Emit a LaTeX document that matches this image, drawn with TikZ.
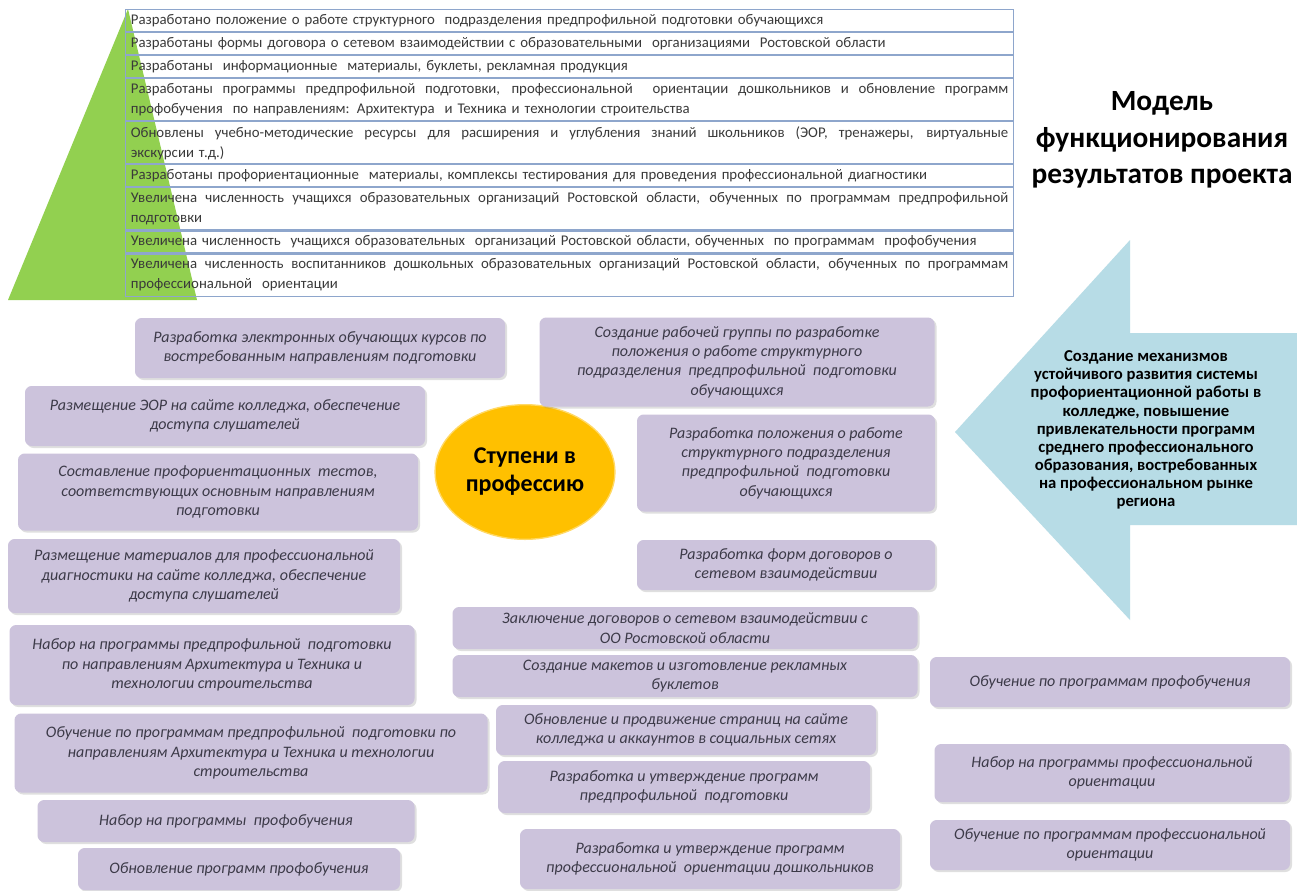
\documentclass[tikz,border=0pt]{standalone}
\usepackage{fontspec}
\setmainfont{Carlito}
\usetikzlibrary{positioning,shapes.geometric,shadows}
\definecolor{CellLine}{HTML}{8EA6CC}
\definecolor{CellText}{HTML}{3A3A3A}
\definecolor{PyramidGreen}{HTML}{92D050}
\definecolor{StepLilac}{HTML}{CCC3DC}
\definecolor{StepText}{HTML}{3C3A48}
\definecolor{HubYellow}{HTML}{FFC000}
\definecolor{GoalBlue}{HTML}{B7DCE6}

\newcommand{\fullrow}[1]{{\spaceskip=0.25em plus 1fil\relax\makebox[658pt][s]{#1}}}

\begin{document}
\begin{tikzpicture}[x=0.75pt,y=-0.75pt,
  cell/.style={rectangle,draw=CellLine,line width=0.8pt,anchor=north west,text width=658pt,align=left,inner xsep=4pt,inner ysep=0pt,minimum height=16.5pt,font=\fontsize{11.1}{15}\selectfont,text=CellText},
  cell2/.style={cell,minimum height=31.5pt},
  stepcard/.style={rectangle,rounded corners=5pt,fill=StepLilac,text=StepText,align=center,inner sep=2pt,font=\fontsize{12}{14.5}\selectfont\itshape,drop shadow={opacity=0.25,shadow xshift=1.5pt,shadow yshift=-1.5pt}},
  cardsize/.style 2 args={minimum width=#1*0.75pt,minimum height=#2*0.75pt},
  hub/.style={ellipse,fill=HubYellow,draw=HubYellow!60!white,line width=1pt,minimum width=112pt,minimum height=101pt,align=center,font=\fontsize{18}{21}\selectfont\bfseries},
  goal/.style={align=center,font=\fontsize{12.5}{13.6}\selectfont\bfseries},
  headline/.style={align=center,font=\fontsize{22}{27.5}\selectfont\bfseries}
]
\useasboundingbox (0,0) rectangle (1297,890);
\fill[white] (0,0) rectangle (1297,890);

% pyramid behind the results table
\fill[PyramidGreen] (8,300) -- (128,9) -- (197,300) -- cycle;

% results table
\node[cell] (r1) at (125,9) {Разработано положение о работе структурного\ \ подразделения предпрофильной подготовки обучающихся};
\node[cell,below=0pt of r1] (r2) {Разработаны формы договора о сетевом взаимодействии с образовательными\ \ организациями\ \ Ростовской области};
\node[cell,below=0pt of r2] (r3) {Разработаны\ \ информационные\ \ материалы, буклеты, рекламная продукция};
\node[cell2,below=0pt of r3] (r4) {\fullrow{Разработаны программы предпрофильной подготовки, профессиональной\ \ ориентации дошкольников и обновление программ}\\профобучения\ \ по направлениям: Архитектура\ \ и Техника и технологии строительства};
\node[cell2,below=0pt of r4] (r5) {\fullrow{Обновлены учебно-методические ресурсы для расширения и углубления знаний школьников (ЭОР, тренажеры, виртуальные}\\экскурсии т.д.)};
\node[cell,below=0pt of r5] (r6) {Разработаны профориентационные\ \ материалы, комплексы тестирования для проведения профессиональной диагностики};
\node[cell2,below=0pt of r6] (r7) {\fullrow{Увеличена численность учащихся образовательных организаций Ростовской области, обученных по программам предпрофильной}\\подготовки};
\node[cell,below=0pt of r7] (r8) {Увеличена численность\ \ учащихся образовательных\ \ организаций Ростовской области, обученных\ \ по программам\ \ профобучения};
\node[cell2,below=0pt of r8] (r9) {\fullrow{Увеличена численность воспитанников дошкольных образовательных организаций Ростовской области, обученных по программам}\\профессиональной\ \ ориентации};

\node[headline] (model) at (1162,140) {Модель\\функционирования\\результатов проекта};

% goal arrow
\coordinate (tip) at (955,432);
\fill[GoalBlue] (tip) -- (1130,240) -- (1130,333) -- (1300,333) -- (1300,525) -- (1130,525) -- (1130,620) -- cycle;
\node[goal] (goal) at (1146,430) {Создание механизмов\\устойчивого развития системы\\профориентационной работы в\\колледже, повышение\\привлекательности программ\\среднего профессионального\\образования, востребованных\\на профессиональном рынке\\региона};

\node[hub] (hub) at (525,472) {Ступени в\\профессию};

% left column
\node[stepcard,cardsize={370}{60}] (eCourse) at (320,348) {Разработка электронных обучающих курсов по\\востребованным направлениям подготовки};
\node[stepcard,cardsize={400}{60}] (eorSite) at (225,416) {Размещение ЭОР на сайте колледжа, обеспечение\\доступа слушателей};
\node[stepcard,cardsize={400}{77}] (tests) at (218,492) {Составление профориентационных\ \ тестов,\\соответствующих основным направлениям\\подготовки};
\node[stepcard,cardsize={392}{74}] (diagSite) at (204,576) {Размещение материалов для профессиональной\\диагностики на сайте колледжа, обеспечение\\доступа слушателей};
\node[stepcard,cardsize={405}{80}] (preRecruit) at (212,665) {Набор на программы предпрофильной\ \ подготовки\\по направлениям Архитектура и Техника и\\технологии строительства};
\node[stepcard,cardsize={473}{79}] (preTrain) at (251,753) {Обучение по программам предпрофильной\ \ подготовки по\\направлениям Архитектура и Техника и технологии\\строительства};
\node[stepcard,cardsize={377}{42}] (voRecruit) at (226,821) {Набор на программы\ \ профобучения};
\node[stepcard,cardsize={322}{42}] (voUpdate) at (239,869) {Обновление программ профобучения};

% middle column
\node[stepcard,cardsize={395}{89}] (workGroup) at (737,362) {Создание рабочей группы по разработке\\положения о работе структурного\\подразделения\ \ предпрофильной\ \ подготовки\\обучающихся};
\node[stepcard,cardsize={298}{97}] (statute) at (786,463) {Разработка положения о работе\\структурного подразделения\\предпрофильной\ \ подготовки\\обучающихся};
\node[stepcard,cardsize={298}{50}] (contractForm) at (786,565) {Разработка форм договоров о\\сетевом взаимодействии};
\node[stepcard,cardsize={465}{42}] (contracts) at (685,628) {Заключение договоров о сетевом взаимодействии с\\ОО Ростовской области};
\node[stepcard,cardsize={465}{42}] (booklets) at (685,676) {Создание макетов и изготовление рекламных\\буклетов};
\node[stepcard,cardsize={380}{50}] (webPages) at (686,730) {Обновление и продвижение страниц на сайте\\колледжа и аккаунтов в социальных сетях};
\node[stepcard,cardsize={372}{52}] (preProg) at (684,787) {Разработка и утверждение программ\\предпрофильной\ \ подготовки};
\node[stepcard,cardsize={380}{60}] (kidsProg) at (710,859) {Разработка и утверждение программ\\профессиональной\ \ ориентации дошкольников};

% right column
\node[stepcard,cardsize={360}{50}] (voTrain) at (1110,682) {Обучение по программам профобучения};
\node[stepcard,cardsize={355}{58}] (orRecruit) at (1112,773) {Набор на программы профессиональной\\ориентации};
\node[stepcard,cardsize={360}{50}] (orTrain) at (1110,845) {Обучение по программам профессиональной\\ориентации};
\end{tikzpicture}
\end{document}
